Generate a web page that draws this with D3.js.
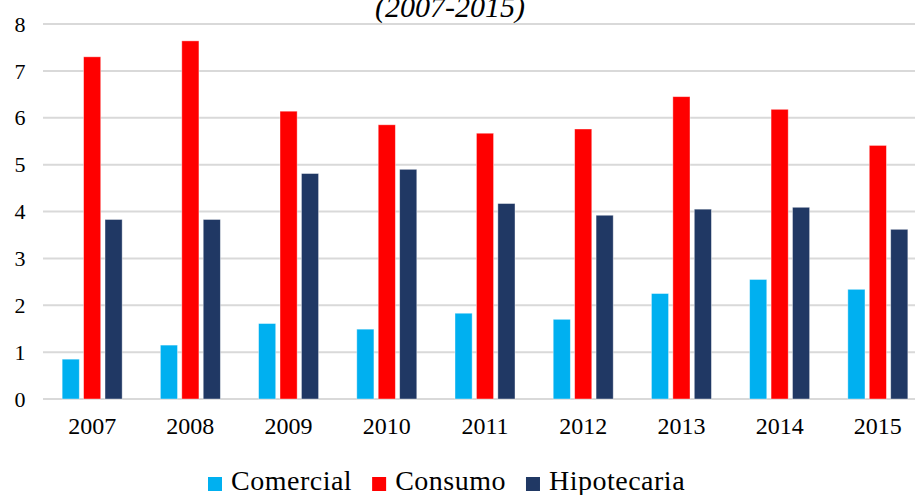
<!DOCTYPE html>
<html lang="es">
<head>
  <meta charset="utf-8">
  <title>Morosidad por tipo de crédito (2007-2015)</title>
  <script src="https://d3js.org/d3.v7.min.js"></script>
  <style>
    body { margin: 0; background: #fff; }
    text { font-family: "Liberation Serif", "Times New Roman", serif; fill: #000; }
  </style>
</head>
<body>
  <div id="chart"></div>
  <script>
    var years = ["2007", "2008", "2009", "2010", "2011", "2012", "2013", "2014", "2015"];
    var seriesNames = ["Comercial", "Consumo", "Hipotecaria"];
    var comercial   = [0.85, 1.15, 1.61, 1.49, 1.83, 1.70, 2.25, 2.55, 2.34];
    var consumo     = [7.30, 7.64, 6.14, 5.85, 5.67, 5.76, 6.45, 6.18, 5.41];
    var hipotecaria = [3.83, 3.83, 4.81, 4.90, 4.17, 3.92, 4.05, 4.09, 3.62];
    var yTicks = [0, 1, 2, 3, 4, 5, 6, 7, 8];
    var colors = ["#00b0f0", "#ff0000", "#203864"];

    var width = 915, height = 495;

    var svg = d3.select("#chart").append("svg")
      .attr("width", width)
      .attr("height", height);

    var x0 = d3.scaleBand()
      .domain(years)
      .range([43, 927])
      .paddingInner(0.389)
      .paddingOuter(0.195);

    var x1 = d3.scaleBand()
      .domain(seriesNames)
      .range([0, x0.bandwidth()])
      .paddingInner(0.2);

    var y = d3.scaleLinear()
      .domain([0, 8])
      .range([399, 24]);

    var color = d3.scaleOrdinal().domain(seriesNames).range(colors);

    // gridlines
    svg.append("g")
      .selectAll("line")
      .data(yTicks)
      .enter()
      .append("line")
      .attr("x1", 43)
      .attr("x2", width)
      .attr("y1", d => y(d))
      .attr("y2", d => y(d))
      .attr("stroke", "#d9d9d9")
      .attr("stroke-width", 2);

    // y labels
    svg.append("g")
      .selectAll("text")
      .data(yTicks)
      .enter()
      .append("text")
      .attr("x", 20)
      .attr("y", d => y(d))
      .attr("dy", "0.35em")
      .attr("text-anchor", "middle")
      .style("font-size", "22px")
      .text(d => d);

    var table = years.map((yr, i) => ({
      year: yr,
      values: [comercial[i], consumo[i], hipotecaria[i]].map((v, j) => ({ key: seriesNames[j], value: v }))
    }));

    var groups = svg.append("g")
      .selectAll("g")
      .data(table)
      .enter()
      .append("g")
      .attr("transform", d => `translate(${x0(d.year)},0)`);

    groups.selectAll("rect")
      .data(d => d.values)
      .enter()
      .append("rect")
      .attr("x", d => x1(d.key))
      .attr("width", x1.bandwidth())
      .attr("y", d => y(d.value))
      .attr("height", d => y(0) - y(d.value))
      .attr("fill", d => color(d.key))
      .attr("stroke", "rgba(255,255,255,0.5)")
      .attr("stroke-width", 0.8);

    // x labels
    svg.append("g")
      .selectAll("text")
      .data(years)
      .enter()
      .append("text")
      .attr("x", d => x0(d) + x0.bandwidth() / 2)
      .attr("y", 434)
      .attr("text-anchor", "middle")
      .style("font-size", "24px")
      .text(d => d);

    // title (cut off at the top, as in the source image)
    svg.append("text")
      .attr("x", 450)
      .attr("y", 17)
      .attr("text-anchor", "middle")
      .style("font-size", "30px")
      .style("font-style", "italic")
      .text("(2007-2015)");

    // legend
    var legend = svg.append("g");
    var lx = 208;
    seriesNames.forEach(function(name) {
      legend.append("rect")
        .attr("x", lx)
        .attr("y", 477)
        .attr("width", 14)
        .attr("height", 14)
        .attr("fill", color(name));
      var t = legend.append("text")
        .attr("x", lx + 14 + 9)
        .attr("y", 490)
        .style("font-size", "28px")
        .style("letter-spacing", "0.5px")
        .text(name);
      lx = lx + 14 + 9 + t.node().getComputedTextLength() + 20;
    });
  </script>
</body>
</html>
